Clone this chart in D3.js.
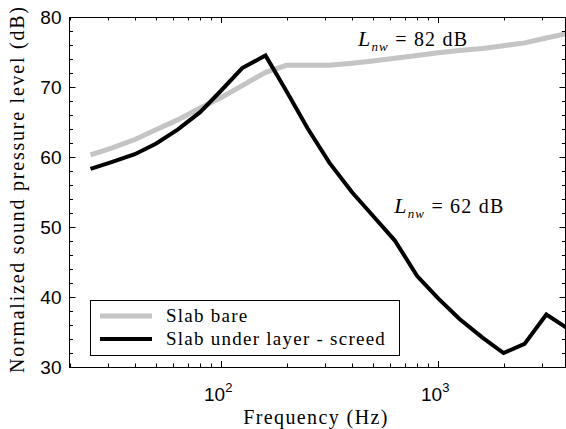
<!DOCTYPE html>
<html>
<head>
<meta charset="utf-8">
<script src="https://cdn.jsdelivr.net/npm/d3@7.9.0/dist/d3.min.js"></script>
<style>
  html, body { margin: 0; padding: 0; background: #fff; }
  svg { display: block; }
  .tick-label { font-family: "Liberation Sans", Arial, sans-serif; font-size: 19px; fill: #000; }
  .serif { font-family: "Liberation Serif", "Times New Roman", serif; fill: #000; }
</style>
</head>
<body>
<svg id="chart" width="566" height="429"></svg>
<script>
// one-third octave band centres (Hz)
const freqs = [25, 31.5, 40, 50, 63, 80, 100, 125, 160, 200, 250, 315, 400, 500,
  630, 800, 1000, 1250, 1600, 2000, 2500, 3150, 4000];

// slab bare
const bareLevels = [60.3, 61.3, 62.5, 63.9, 65.3, 67.0, 68.5, 70.2, 72.1, 73.1, 73.1, 73.1,
  73.4, 73.7, 74.1, 74.5, 74.9, 75.2, 75.5, 75.9, 76.3, 77.0, 77.7];

// slab + under layer + screed
const screedLevels = [58.3, 59.3, 60.4, 61.9, 63.9, 66.4, 69.5, 72.7, 74.5, 69.4, 64.1, 59.2,
  55.0, 51.6, 48.1, 43.0, 39.8, 36.9, 34.2, 32.0, 33.3, 37.5, 35.4];

const yTicks = [30, 40, 50, 60, 70, 80];
const xMajor = [100, 1000];
const annotations = [
  { f: 427, v: 75.8, value: "82" },
  { f: 627, v: 52.0, value: "62" }
];
const legendLabels = ["Slab bare", "Slab under layer - screed"];

/* ------------------------------ scales ------------------------------ */
const L = 69.5, R = 565.5, T = 17, B = 367;
const x = d3.scaleLog().domain([20, 3860]).range([L, R]);
const y = d3.scaleLinear().domain([30, 80]).range([B, T]);

const svg = d3.select("#chart");

svg.append("defs").append("clipPath").attr("id", "plot-clip")
  .append("rect").attr("x", L).attr("y", T).attr("width", R - L).attr("height", B - T);

/* ------------------------------ curves ------------------------------ */
const line = d3.line()
  .x(d => x(d[0]))
  .y(d => y(d[1]));

const series = [
  { values: bareLevels, color: "#c4c4c4", width: 5 },
  { values: screedLevels, color: "#000", width: 4 }
];

const plot = svg.append("g").attr("clip-path", "url(#plot-clip)");
series.forEach(s => {
  plot.append("path")
    .datum(freqs.map((f, i) => [f, s.values[i]]))
    .attr("d", line)
    .attr("fill", "none")
    .attr("stroke", s.color)
    .attr("stroke-width", s.width)
    .attr("stroke-linejoin", "miter");
});

/* ------------------------------ axes box ------------------------------ */
// minor ticks: every 2 dB / every integer multiple within decades
const yMinor = d3.range(30, 81, 2).filter(v => !yTicks.includes(v));
const xMinor = x.ticks().filter(f => !xMajor.includes(f));

const axes = svg.append("g").attr("stroke", "#000").attr("stroke-width", 1);

axes.selectAll(".xt").data(xMajor.map(f => [f, 6]).concat(xMinor.map(f => [f, 3.5])))
  .enter().append("path")
  .attr("d", d => {
    const px = Math.round(x(d[0])) + 0.5;
    return `M${px},${B}v${-d[1]}M${px},${T}v${d[1]}`;
  });

axes.selectAll(".yt").data(yTicks.map(v => [v, 6]).concat(yMinor.map(v => [v, 3.5])))
  .enter().append("path")
  .attr("d", d => {
    const py = Math.round(y(d[0])) + 0.5;
    return `M${L},${py}h${d[1]}M${R},${py}h${-d[1]}`;
  });

axes.append("rect")
  .attr("x", L).attr("y", T + 0.5)
  .attr("width", R - L).attr("height", B - T)
  .attr("fill", "none");

/* ------------------------------ tick labels ------------------------------ */
svg.selectAll(".ylab").data(yTicks).enter().append("text")
  .attr("class", "tick-label")
  .attr("x", L - 8)
  .attr("y", d => y(d) + 7)
  .attr("text-anchor", "end")
  .text(d => d);

xMajor.forEach(f => {
  const t = svg.append("text").attr("class", "tick-label")
    .attr("x", x(f) - 3).attr("y", 401).attr("text-anchor", "middle");
  t.append("tspan").text("10");
  t.append("tspan").attr("dy", -9).attr("font-size", 13).text(Math.round(Math.log10(f)));
});

/* ------------------------------ axis titles ------------------------------ */
svg.append("text").attr("class", "serif")
  .attr("x", 316).attr("y", 424)
  .attr("text-anchor", "middle")
  .attr("font-size", 20)
  .attr("letter-spacing", 1.4)
  .text("Frequency (Hz)");

svg.append("text").attr("class", "serif")
  .attr("transform", `translate(24,${(T + B) / 2 - 2}) rotate(-90)`)
  .attr("text-anchor", "middle")
  .attr("font-size", 20)
  .attr("textLength", 366)
  .attr("lengthAdjust", "spacing")
  .text("Normalized sound pressure level (dB)");

/* ------------------------------ annotations ------------------------------ */
annotations.forEach(a => {
  const t = svg.append("text").attr("class", "serif")
    .attr("x", x(a.f)).attr("y", y(a.v)).attr("font-size", 20)
    .attr("letter-spacing", 1.2);
  t.append("tspan").attr("font-style", "italic").attr("font-size", 22).text("L");
  t.append("tspan").attr("font-style", "italic").attr("font-size", 13).attr("dy", 5).text("nw");
  t.append("tspan").attr("dy", -5).text(` = ${a.value} dB`);
});

/* ------------------------------ legend ------------------------------ */
const lg = svg.append("g");
lg.append("rect")
  .attr("x", 90.5).attr("y", 300.5).attr("width", 309).attr("height", 55)
  .attr("fill", "#fff").attr("stroke", "#000");

legendLabels.forEach((label, i) => {
  const yy = 316 + i * 23;
  lg.append("line")
    .attr("x1", 100).attr("x2", 152).attr("y1", yy).attr("y2", yy)
    .attr("stroke", series[i].color).attr("stroke-width", series[i].width);
  lg.append("text").attr("class", "serif")
    .attr("x", 166).attr("y", yy + 6)
    .attr("font-size", 19)
    .attr("letter-spacing", 1.25)
    .text(label);
});
</script>
</body>
</html>
